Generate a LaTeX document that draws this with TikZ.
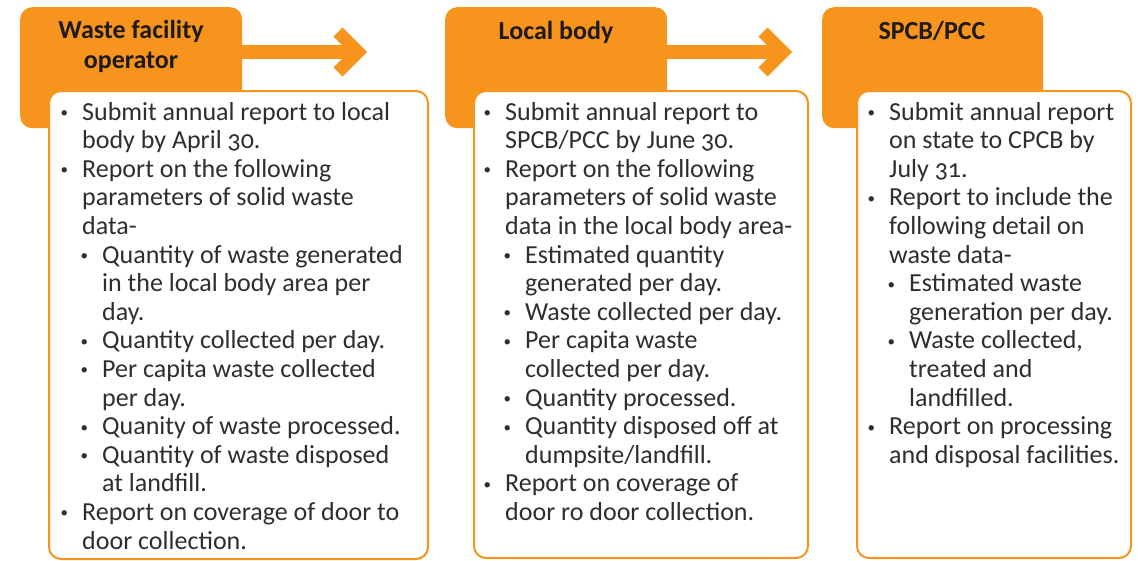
\documentclass[tikz,border=0pt]{standalone}
\usepackage{fontspec}
\setmainfont{Carlito}[Numbers=OldStyle]
\definecolor{orng}{HTML}{F7941D}
\definecolor{bodytxt}{HTML}{2E2E2E}
\definecolor{ttltxt}{HTML}{1E1A1A}
\newcommand\smallbul{\raisebox{2.5pt}{\fontsize{15}{15}\selectfont\textbullet}}
\newcommand\Ia{\par\leftskip=0pt\noindent\llap{\smallbul\hspace{14pt}}}
\newcommand\Ib{\par\leftskip=20pt\noindent\llap{\smallbul\hspace{14pt}}}
\newcommand\bodyfont{\fontsize{26}{28.6}\selectfont}
\tikzset{
  obox/.style={fill=orng, draw=none, rounded corners=12pt, anchor=north west, inner sep=0pt},
  wbox/.style={fill=white, draw=orng, line width=2pt, rounded corners=12pt, anchor=north west, inner sep=0pt},
  ttl/.style={font=\bfseries\fontsize{26}{30}\selectfont, text=ttltxt, align=center, anchor=base, inner sep=0pt},
  bodytext/.style={text=bodytxt, anchor=base west, inner sep=0pt},
  shaft/.style={draw=orng, line width=14pt},
  chev/.style={draw=orng, line width=13pt, line join=miter, line cap=butt},
}
\begin{document}
\begin{tikzpicture}[x=1pt,y=-1pt]
\useasboundingbox (0,0) rectangle (1138,560);
% orange header boxes
\node[obox, minimum width=222pt, minimum height=121pt] (o1) at (20,7) {};
\node[obox, minimum width=222pt, minimum height=121pt] (o2) at (445,7) {};
\node[obox, minimum width=221pt, minimum height=121pt] (o3) at (822,7) {};
% titles
\node[ttl] (h1) at (131,68) {Waste facility\\operator};
\node[ttl] (h2) at (556,39) {Local body};
\node[ttl] (h3) at (932,39) {SPCB/PCC};
% arrows
\coordinate (a1) at (358,52);
\coordinate (a2) at (783,52);
\draw[shaft] (o1.east |- a1) -- (a1);
\draw[chev] ([shift={(-20,-20)}]a1) -- (a1) -- ([shift={(-20,20)}]a1);
\draw[shaft] (o2.east |- a2) -- (a2);
\draw[chev] ([shift={(-20,-20)}]a2) -- (a2) -- ([shift={(-20,20)}]a2);
% white boxes
\node[wbox, minimum width=379pt, minimum height=468pt] (w1) at (48,90) {};
\node[wbox, minimum width=334pt, minimum height=467pt] (w2) at (473,90) {};
\node[wbox, minimum width=274pt, minimum height=467pt] (w3) at (856,90) {};
% texts
\node[bodytext] (t1) at (82,120) {\begin{minipage}[t]{340pt}\bodyfont
\Ia Submit annual report to local\\body by April 30.
\Ia Report on the following\\parameters of solid waste\\data-
\Ib Quantity of waste generated\\in the local body area per\\day.
\Ib Quantity collected per day.
\Ib Per capita waste collected\\per day.
\Ib Quanity of waste processed.
\Ib Quantity of waste disposed\\at landfill.
\Ia Report on coverage of door to\\door collection.
\end{minipage}};
\node[bodytext] (t2) at (505,120) {\begin{minipage}[t]{300pt}\bodyfont
\Ia Submit annual report to\\SPCB/PCC by June 30.
\Ia Report on the following\\parameters of solid waste\\data in the local body area-
\Ib Estimated quantity\\generated per day.
\Ib Waste collected per day.
\Ib Per capita waste\\collected per day.
\Ib Quantity processed.
\Ib Quantity disposed off at\\dumpsite/landfill.
\Ia Report on coverage of\\door ro door collection.
\end{minipage}};
\node[bodytext] (t3) at (889,120) {\begin{minipage}[t]{240pt}\bodyfont
\Ia Submit annual report\\on state to CPCB by\\July 31.
\Ia Report to include the\\following detail on\\waste data-
\Ib Estimated waste\\generation per day.
\Ib Waste collected,\\treated and\\landfilled.
\Ia Report on processing\\and disposal facilities.
\end{minipage}};
\end{tikzpicture}
\end{document}
